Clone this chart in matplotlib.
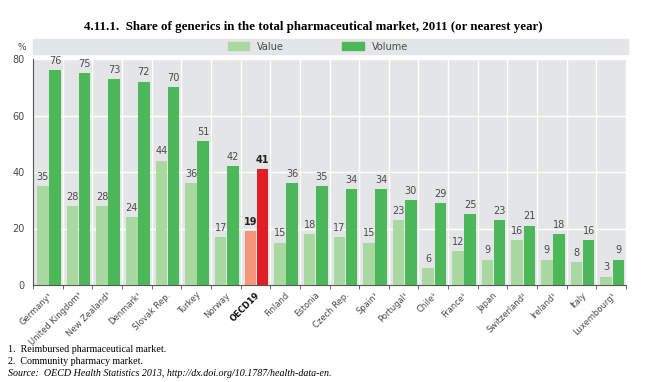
import numpy as np
import matplotlib
matplotlib.use("Agg")
import matplotlib.pyplot as plt
from matplotlib.patches import Rectangle, Patch

plt.rcParams['font.family'] = ['Liberation Sans Narrow', 'DejaVu Sans']

# Data
countries = ["Germany¹", "United Kingdom¹", "New Zealand¹", "Denmark¹", "Slovak Rep.",
             "Turkey", "Norway", "OECD19", "Finland", "Estonia", "Czech Rep.", "Spain¹",
             "Portugal¹", "Chile¹", "France¹", "Japan", "Switzerland²", "Ireland¹",
             "Italy", "Luxembourg¹"]
value = [35, 28, 28, 24, 44, 36, 17, 19, 15, 18, 17, 15, 23, 6, 12, 9, 16, 9, 8, 3]
volume = [76, 75, 73, 72, 70, 51, 42, 41, 36, 35, 34, 34, 30, 29, 25, 23, 21, 18, 16, 9]
highlight = "OECD19"

c_val, c_vol = "#a9d9a1", "#4cb85a"
c_val_hi, c_vol_hi = "#f4967a", "#e01e26"
bg = "#e4e5e6"
txt = "#4a4a4a"

fig = plt.figure(figsize=(6.5, 3.82), dpi=100)
ax = fig.add_axes([33 / 650, 1 - 285 / 382, (626 - 33) / 650, (285 - 59) / 382])
ax.set_facecolor(bg)

x = np.arange(len(countries))
w = 0.39
cols_val = [c_val_hi if c == highlight else c_val for c in countries]
cols_vol = [c_vol_hi if c == highlight else c_vol for c in countries]
ax.bar(x - 0.17, value, width=w, color=cols_val, zorder=3)
ax.bar(x + 0.24, volume, width=w, color=cols_vol, zorder=3)

for i, c in enumerate(countries):
    hi = c == highlight
    kw = dict(ha='center', va='bottom', fontsize=7,
              color='#222222' if hi else txt, fontweight='bold' if hi else 'normal')
    ax.text(x[i] - 0.17, value[i] + 1.5, str(value[i]), **kw)
    ax.text(x[i] + 0.24, volume[i] + 1.5, str(volume[i]), **kw)

ax.set_xlim(-0.5, len(countries) - 0.5)
ax.set_ylim(0, 80)
ax.set_yticks([0, 20, 40, 60, 80])
ax.tick_params(axis='y', length=0, labelsize=7, labelcolor=txt, pad=6)
ax.grid(axis='y', color='white', linewidth=1, zorder=1)
for b in np.arange(-0.5, len(countries), 1.0)[1:]:
    ax.axvline(b, color='white', linewidth=1, zorder=1)

ax.set_xticks(x)
ax.set_xticklabels(countries, rotation=45, ha='right', rotation_mode='anchor',
                   fontsize=6, color=txt)
for lbl in ax.get_xticklabels():
    if lbl.get_text() == highlight:
        lbl.set_fontweight('bold')
        lbl.set_color('#111111')
ax.tick_params(axis='x', length=0, pad=4)
ax.set_xticks(np.arange(-0.5, len(countries), 1.0), minor=True)
ax.tick_params(axis='x', which='minor', length=3, color='#555555')

for s in ['top', 'right']:
    ax.spines[s].set_visible(False)
ax.spines['left'].set_color('#555555')
ax.spines['bottom'].set_color('#555555')
ax.spines['left'].set_linewidth(0.8)
ax.spines['bottom'].set_linewidth(0.8)

fig.text(22 / 650, 1 - 47 / 382, "%", fontsize=6.5, color=txt, ha='center', va='center')

# legend band
fig.patches.append(Rectangle((33 / 650, 1 - 54 / 382), (628 - 33) / 650, 15 / 382,
                             transform=fig.transFigure, color=bg, zorder=0))
handles = [Patch(color=c_val, label="Value"), Patch(color=c_vol, label="Volume")]
fig.legend(handles=handles, loc='center', bbox_to_anchor=(318 / 650, 1 - 46.5 / 382),
           ncol=2, frameon=False, fontsize=7, handlelength=2.2, handleheight=0.8,
           columnspacing=6, labelcolor=txt)

fig.text(313 / 650, 1 - 27 / 382, "4.11.1.  Share of generics in the total pharmaceutical market, 2011 (or nearest year)",
         ha='center', va='center', fontsize=9.3, fontweight='bold', family='Liberation Serif')

notes = ["1.  Reimbursed pharmaceutical market.",
         "2.  Community pharmacy market."]
fig.text(8 / 650, 1 - 350 / 382, notes[0], fontsize=7.2, family='Liberation Serif', va='center')
fig.text(8 / 650, 1 - 362 / 382, notes[1], fontsize=7.2, family='Liberation Serif', va='center')
fig.text(8 / 650, 1 - 374 / 382,
         "Source:  OECD Health Statistics 2013, http://dx.doi.org/10.1787/health-data-en.",
         fontsize=7.2, family='Liberation Serif', style='italic', va='center')

fig.savefig("out.png", dpi=100)
